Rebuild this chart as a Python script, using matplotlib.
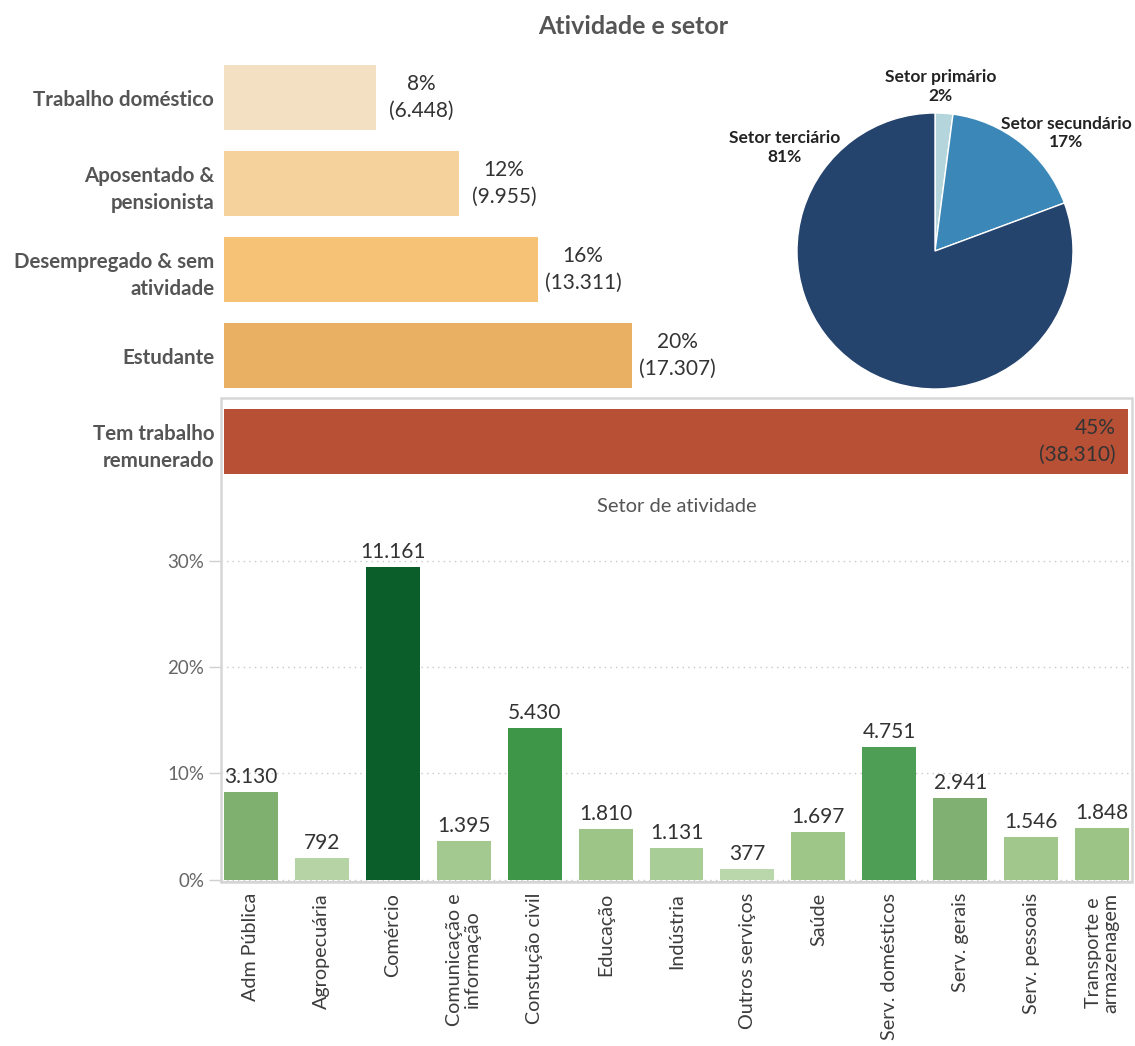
import matplotlib.pyplot as plt
from matplotlib.patches import Rectangle

plt.rcParams['font.family'] = ['Lato', 'DejaVu Sans']

# activity status (top bars)
status = ['Trabalho doméstico', 'Aposentado &\npensionista', 'Desempregado & sem\natividade',
          'Estudante', 'Tem trabalho\nremunerado']
status_counts = [6448, 9955, 13311, 17307, 38310]
status_colors = ['#F3E0C2', '#F5D19C', '#F5C276', '#E9B063', '#B85036']

# pie by sector
pie_labels = ['Setor primário', 'Setor secundário', 'Setor terciário']
pie_counts = [792, 6561, 30656]
pie_colors = ['#B4D5DC', '#3A87B8', '#25446D']

# sector of activity (bottom bars)
sectors = ['Adm Pública', 'Agropecuária', 'Comércio', 'Comunicação e\ninformação', 'Constução civil',
           'Educação', 'Indústria', 'Outros serviços', 'Saúde', 'Serv. domésticos', 'Serv. gerais',
           'Serv. pessoais', 'Transporte e\narmazenagem']
sector_counts = [3130, 792, 11161, 1395, 5430, 1810, 1131, 377, 1697, 4751, 2941, 1546, 1848]
sector_colors = ['#7FB070', '#B6D3A6', '#0B5E2A', '#A4C990', '#3E9649', '#9CC587', '#A9CD96',
                 '#BAD7AB', '#9EC689', '#4F9E55', '#80B172', '#A2C78C', '#9DC487']

W, H = 1135, 1046


def box(x0, y0, x1, y1):
    return [x0 / W, 1 - y1 / H, (x1 - x0) / W, (y1 - y0) / H]


def fmt(n):
    return f'{n:,}'.replace(',', '.')


fig = plt.figure(figsize=(W / 100, H / 100), dpi=100)
fig.text(633 / W, 1 - 27 / H, 'Atividade e setor', ha='center', va='center',
         fontsize=18, fontweight='bold', color='#555555')

# gray frame around the working part
fig.patches.append(Rectangle((221 / W, 1 - 882 / H), 911 / W, 484 / H, transform=fig.transFigure,
                             fill=False, edgecolor='#d6d6d6', lw=1.8, zorder=0))

# top horizontal bars
ax1 = fig.add_axes(box(224, 54.5, 1128, 484.5))
total = sum(status_counts)
ypos = list(range(len(status)))
ax1.barh(ypos, status_counts, height=0.76, color=status_colors)
ax1.set_xlim(0, status_counts[-1])
ax1.set_ylim(4.5, -0.5)
ax1.set_yticks(ypos, status, fontsize=14.8, fontweight='bold', color='#555555', linespacing=1.45)
ax1.tick_params(axis='y', length=0, pad=7)
ax1.set_xticks([])
for s in ax1.spines.values():
    s.set_visible(False)
ax1.patch.set_alpha(0)
for i, c in enumerate(status_counts):
    txt = f'{round(100 * c / total)}%\n({fmt(c)})'
    if i == len(status_counts) - 1:
        ax1.annotate(txt, (c, i), xytext=(-12, 0), textcoords='offset pixels', ha='right',
                     va='center', fontsize=15, color='#333333', linespacing=1.45)
    else:
        ax1.annotate(txt, (c, i), xytext=(45, 0), textcoords='offset pixels', ha='center',
                     va='center', fontsize=15, color='#333333', linespacing=1.45)

# pie
ax2 = fig.add_axes(box(797, 113, 1073, 389))
ax2.pie(pie_counts, colors=pie_colors, startangle=90, counterclock=False,
        wedgeprops=dict(linewidth=1, edgecolor='white'))
ax2.set_xlim(-1, 1)
ax2.set_ylim(-1, 1)
ptot = sum(pie_counts)
pie_pos = [(0.04, 1.19), (0.95, 0.855), (-1.09, 0.75)]
for lab, c, (px, py) in zip(pie_labels, pie_counts, pie_pos):
    ax2.text(px, py, f'{lab}\n{round(100 * c / ptot)}%', ha='center', va='center', fontsize=12.5,
             fontweight='bold', color='#222222', clip_on=False, linespacing=1.2)

# bottom vertical bars
ax3 = fig.add_axes(box(221, 482, 1132, 882))
stot = sum(sector_counts)
pct = [100 * c / stot for c in sector_counts]
xpos = list(range(len(sectors)))
ax3.bar(xpos, pct, width=0.76, color=sector_colors, zorder=2)
ax3.set_xlim(-0.42, 12.42)
ax3.set_ylim(-0.2, 37.4)
ax3.set_yticks([0, 10, 20, 30], ['0%', '10%', '20%', '30%'], fontsize=13.5, color='#666666')
ax3.tick_params(axis='y', length=9, width=1, color='#d0d0d0', pad=3)
ax3.set_xticks(xpos, sectors, rotation=90, fontsize=14.2, color='#3c3c3c', linespacing=1.05)
ax3.tick_params(axis='x', length=0, pad=8)
ax3.grid(axis='y', color='#c8c8c8', lw=1, ls=(0, (1, 3)), zorder=0)
for s in ax3.spines.values():
    s.set_visible(False)
ax3.spines['bottom'].set_visible(True)
ax3.spines['bottom'].set_color('#d0d0d0')
ax3.spines['bottom'].set_linewidth(1.5)
ax3.patch.set_alpha(0)
for x, p, c in zip(xpos, pct, sector_counts):
    ax3.annotate(fmt(c), (x, p), xytext=(0, 5), textcoords='offset pixels', ha='center',
                 va='bottom', fontsize=15, color='#333333')
ax3.text(0.5, 1 - (507 - 482) / 400, 'Setor de atividade', transform=ax3.transAxes,
         ha='center', va='center', fontsize=14.5, color='#555555')

fig.savefig('out.png', dpi=100)
